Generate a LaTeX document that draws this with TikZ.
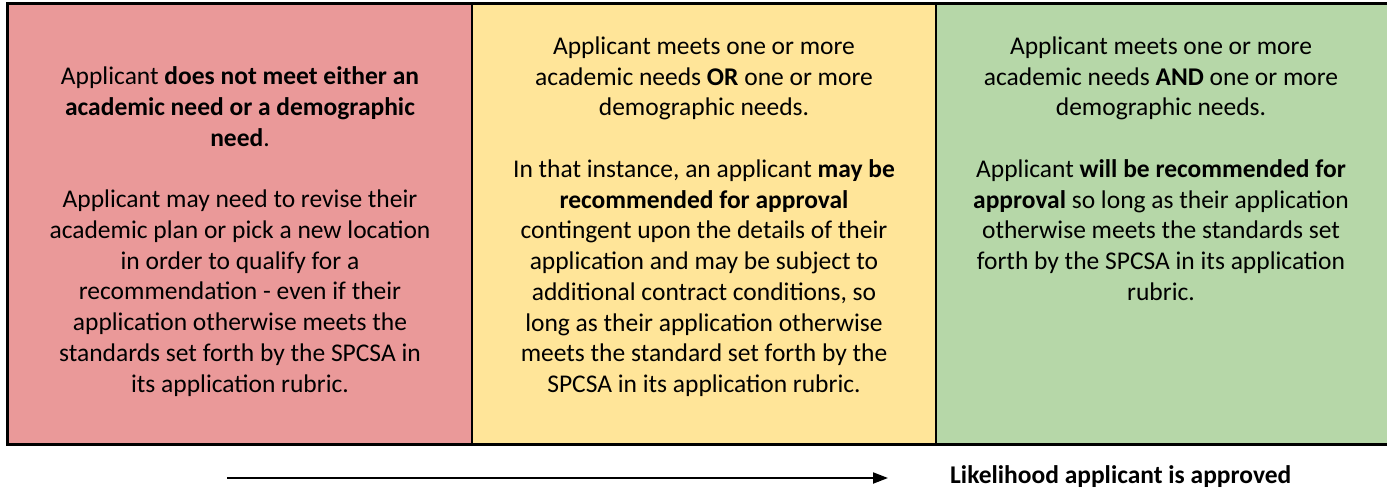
\documentclass[tikz,border=0pt]{standalone}
\usepackage{fontspec}
\setmainfont{Carlito}
\usetikzlibrary{arrows.meta}
\definecolor{cred}{HTML}{EA9999}
\definecolor{cyellow}{HTML}{FFE599}
\definecolor{cgreen}{HTML}{B6D7A8}
\begin{document}
\begin{tikzpicture}[x=1pt,y=-1pt,
  coltext/.style={align=center,inner sep=0pt,anchor=north,font=\fontsize{25.5}{30.75}\selectfont},
  panel/.style={draw=black,line width=2.5pt}]
\useasboundingbox (0,0) rectangle (1387,490);
\fill[cred] (7.5,3.5) rectangle (472,444.5);
\fill[cyellow] (472,3.5) rectangle (936,444.5);
\fill[cgreen] (936,3.5) rectangle (1392,444.5);
\draw[line width=2.5pt] (472,3.5) -- (472,444.5);
\draw[line width=2.5pt] (936,3.5) -- (936,444.5);
\draw[panel] (7.5,3.5) rectangle (1392,444.5);

\node[coltext] (c1) at (240,66.5) {Applicant \textbf{does not meet either an}\\
\textbf{academic need or a demographic}\\
\textbf{need}.\\[30.75pt]
Applicant may need to revise their\\
academic plan or pick a new location\\
in order to qualify for a\\
recommendation - even if their\\
application otherwise meets the\\
standards set forth by the SPCSA in\\
its application rubric.};

\node[coltext] (c2) at (704,36.5) {Applicant meets one or more\\
academic needs \textbf{OR} one or more\\
demographic needs.\\[30.75pt]
In that instance, an applicant \textbf{may be}\\
\textbf{recommended for approval}\\
contingent upon the details of their\\
application and may be subject to\\
additional contract conditions, so\\
long as their application otherwise\\
meets the standard set forth by the\\
SPCSA in its application rubric.};

\node[coltext] (c3) at (1161,36.5) {Applicant meets one or more\\
academic needs \textbf{AND} one or more\\
demographic needs.\\[30.75pt]
Applicant \textbf{will be recommended for}\\
\textbf{approval} so long as their application\\
otherwise meets the standards set\\
forth by the SPCSA in its application\\
rubric.};

\coordinate (a0) at (227,478);
\coordinate (a1) at (888,478);
\draw[line width=2pt,-{Triangle[length=15pt,width=11pt]}] (a0) -- (a1);
\node[inner sep=0pt,anchor=base west,font=\fontsize{25.5}{30}\selectfont\bfseries] (lbl) at (950,483) {Likelihood applicant is approved};
\end{tikzpicture}
\end{document}
